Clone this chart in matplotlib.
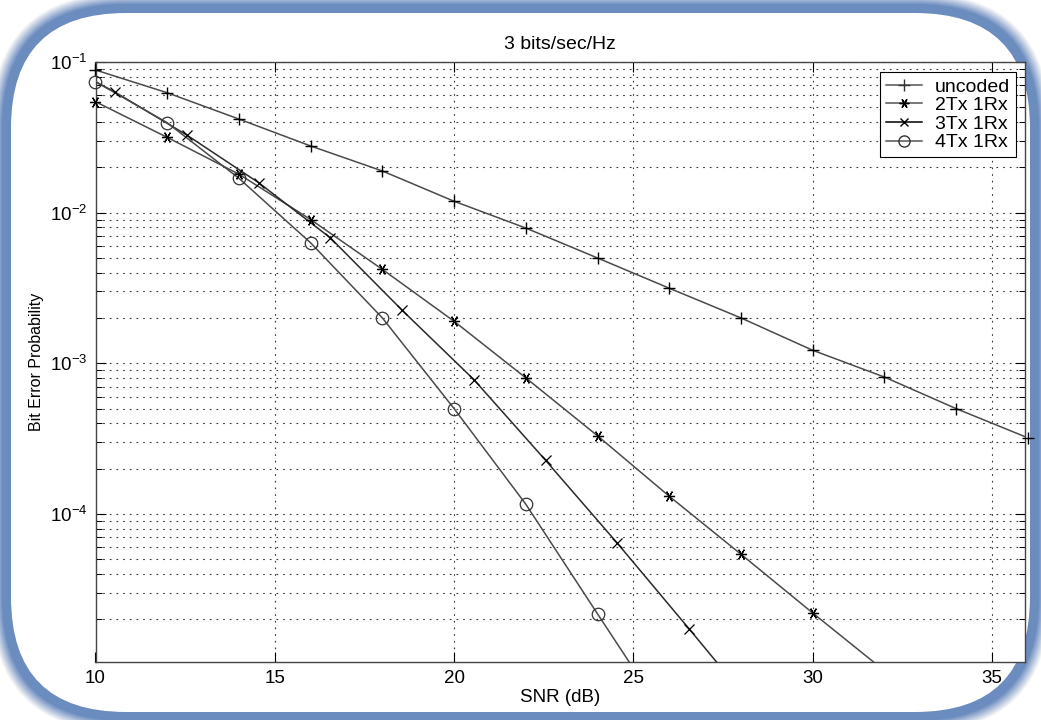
import numpy as np
import matplotlib
matplotlib.use('Agg')
import matplotlib.pyplot as plt
from matplotlib.patches import FancyBboxPatch
from matplotlib.lines import Line2D
from matplotlib.ticker import LogLocator, NullFormatter, LogFormatterSciNotation

plt.rcParams['font.family'] = ['Liberation Sans', 'DejaVu Sans']
plt.rcParams['mathtext.fontset'] = 'custom'
plt.rcParams['mathtext.rm'] = 'Liberation Sans'
plt.rcParams['mathtext.it'] = 'Liberation Sans'

# data (SNR in dB, bit error probability)
snr_uncoded = [10, 12, 14, 16, 18, 20, 22, 24, 26, 28, 30, 32, 34, 36]
ber_uncoded = [0.0885, 0.0625, 0.0418, 0.0277, 0.0189, 0.0119, 0.0079, 0.0050,
               0.00315, 0.0020, 0.00122, 0.00081, 0.00050, 0.00032]

snr_2tx = [10, 12, 14, 16, 18, 20, 22, 24, 26, 28, 30, 32]
ber_2tx = [0.0545, 0.0316, 0.0180, 0.0090, 0.0042, 0.0019, 0.00080, 0.00033,
           0.000131, 5.4e-5, 2.2e-5, 9.1e-6]

snr_3tx = [10, 10.55, 12.55, 14.55, 16.55, 18.55, 20.55, 22.55, 24.55, 26.55, 28.55]
ber_3tx = [0.074, 0.063, 0.0327, 0.0158, 0.0068, 0.00225, 0.00078, 0.000227,
           6.4e-5, 1.73e-5, 4.6e-6]

snr_4tx = [10, 12, 14, 16, 18, 20, 22, 24, 26]
ber_4tx = [0.074, 0.0395, 0.0169, 0.0063, 0.0020, 0.0005, 0.000116, 2.17e-5, 4.1e-6]

labels = ['uncoded', '2Tx 1Rx', '3Tx 1Rx', '4Tx 1Rx']

W, H = 1041, 720
fig = plt.figure(figsize=(W / 100, H / 100), dpi=100)
fig.patch.set_facecolor('white')

# rounded blue frame drawn in pixel coordinates
bg = fig.add_axes([0, 0, 1, 1], zorder=0)
bg.set_xlim(0, W)
bg.set_ylim(H, 0)
bg.axis('off')
x0, y0, x1, y1 = 11, 13, 1030, 712
r = 115
blue = np.array([0.42, 0.55, 0.75])
light = np.array([0.96, 0.96, 0.97])
for d in range(20, 0, -1):
    if d <= 9:
        c = blue
    else:
        t = (d - 9) / 11.0
        c = blue * (1 - t) + light * t
    bg.add_patch(FancyBboxPatch((x0 - d, y0 - d), (x1 - x0) + 2 * d, (y1 - y0) + 2 * d,
                                boxstyle='round,pad=0,rounding_size=%d' % (r + d),
                                facecolor=c, edgecolor='none'))
bg.add_patch(FancyBboxPatch((x0, y0), x1 - x0, y1 - y0,
                            boxstyle='round,pad=0,rounding_size=%d' % r,
                            facecolor='white', edgecolor='none'))

ax = fig.add_axes([95.5 / W, 1 - 662 / H, (1025 - 95.5) / W, 600 / H], zorder=1)
ax.set_facecolor('white')

xlim = (10, 35.92)
ylim = (1.04e-5, 1e-1)


def curve(x, y, lc, mk, every=None, **mkw):
    x = np.asarray(x, float)
    y = np.asarray(y, float)
    ax.plot(x, y, color=lc, lw=1.1, zorder=3)
    idx = np.arange(len(x))
    if every is not None:
        idx = idx[every]
    keep = [i for i in idx if ylim[0] <= y[i] <= ylim[1] and x[i] <= xlim[1] + 0.2]
    ax.plot(x[keep], y[keep], ls='none', marker=mk, clip_on=False, zorder=4, **mkw)


line_c = '#4a4a4a'
curve(snr_uncoded, ber_uncoded, line_c, '+', ms=9, mec='black', mew=1.0)
curve(snr_2tx, ber_2tx, line_c, (6, 2, 90), ms=8, mec='black', mew=0.9)
curve(snr_3tx, ber_3tx, '#2a2a2a', 'x', every=slice(1, None), ms=6.5, mec='black', mew=0.9)
curve(snr_4tx, ber_4tx, line_c, 'o', ms=9, mfc='none', mec='#333333', mew=0.9)

ax.set_yscale('log')
ax.set_xlim(*xlim)
ax.set_ylim(*ylim)
ax.set_xticks([10, 15, 20, 25, 30, 35])
ax.yaxis.set_major_locator(LogLocator(base=10, numticks=10))
ax.yaxis.set_minor_locator(LogLocator(base=10, subs=np.arange(2, 10), numticks=50))
ax.yaxis.set_minor_formatter(NullFormatter())
ax.yaxis.set_major_formatter(LogFormatterSciNotation())

grid_ls = (0, (1.5, 4.5))
ax.grid(True, which='major', axis='x', color='#333333', ls=grid_ls, lw=0.8)
ax.grid(True, which='both', axis='y', color='#333333', ls=grid_ls, lw=0.8)

ax.tick_params(which='both', direction='in', top=True, right=True,
               labelsize=13.5, colors='black')
ax.tick_params(which='major', length=7, width=0.8, pad=6)
ax.tick_params(which='minor', length=4, width=0.7)
for s in ax.spines.values():
    s.set_color('#444444')
    s.set_linewidth(1.0)

ax.set_title('3 bits/sec/Hz', fontsize=14, pad=9)
ax.set_xlabel('SNR (dB)', fontsize=13.5, labelpad=1)
ax.set_ylabel('Bit Error Probability', fontsize=11.5, labelpad=4)

handles = [
    Line2D([], [], color='#555555', lw=1.1, marker='+', ms=9, mec='#333333'),
    Line2D([], [], color='#555555', lw=1.1, marker=(6, 2, 90), ms=7, mec='black'),
    Line2D([], [], color='black', lw=1.1, marker='x', ms=6),
    Line2D([], [], color='#555555', lw=1.1, marker='o', ms=8, mfc='none', mec='#333333'),
]
leg = ax.legend(handles, labels, loc='upper right', bbox_to_anchor=(0.990, 0.983),
                borderaxespad=0, fancybox=False, framealpha=1, edgecolor='black',
                fontsize=14, labelspacing=0.05, handlelength=1.85, borderpad=0.3,
                handletextpad=0.65)
leg.get_frame().set_linewidth(0.8)
leg.set_zorder(5)

fig.savefig('out.png', dpi=100)
